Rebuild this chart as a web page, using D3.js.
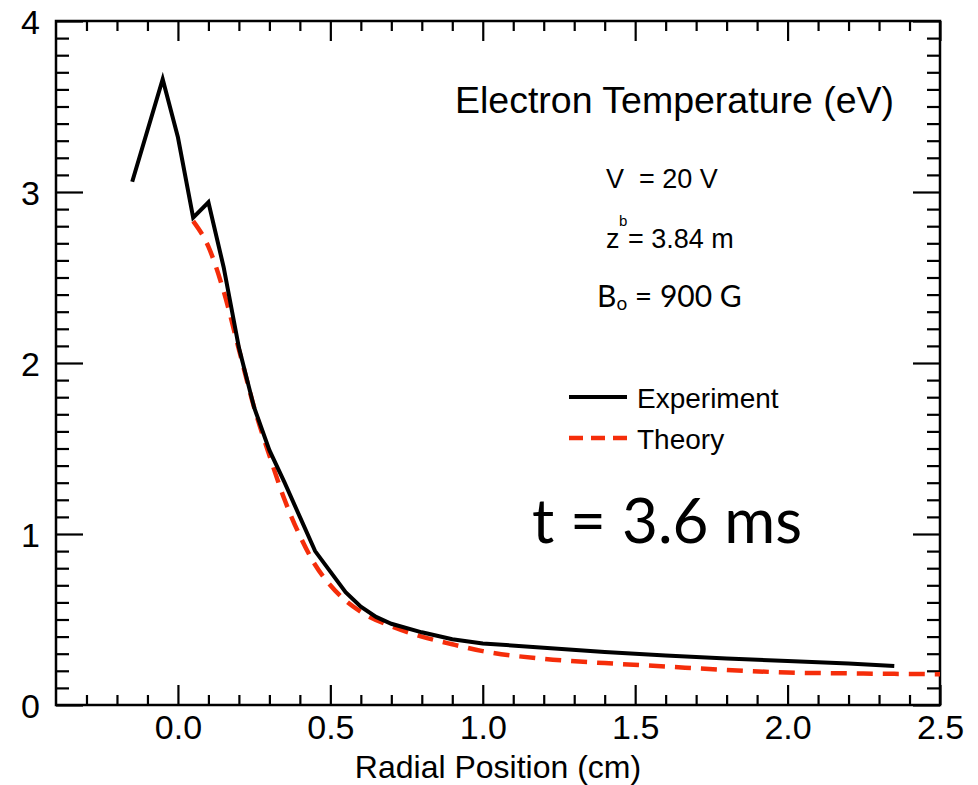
<!DOCTYPE html>
<html>
<head>
<meta charset="utf-8">
<script src="https://cdn.jsdelivr.net/npm/d3@7"></script>
<style>
  body { margin: 0; background: #fff; }
  svg text { font-family: "Liberation Sans", Arial, sans-serif; fill: #000; }
</style>
</head>
<body>
<div id="container"></div>
<script>
/* CONSTANTS AND GLOBALS */
const width = 978,
  height = 785,
  margin = {top: 21, bottom: 80, left: 56, right: 38};

// data
const expX = [-0.15, -0.05, 0.0, 0.05, 0.10, 0.15, 0.20, 0.25, 0.30, 0.35, 0.40, 0.45, 0.50, 0.55, 0.60, 0.65, 0.70, 0.80, 0.90, 1.00, 1.20, 1.40, 1.60, 1.80, 2.00, 2.20, 2.35];
const expT = [3.06, 3.66, 3.32, 2.85, 2.94, 2.56, 2.09, 1.74, 1.49, 1.30, 1.10, 0.90, 0.78, 0.66, 0.575, 0.515, 0.475, 0.425, 0.385, 0.36, 0.335, 0.31, 0.29, 0.272, 0.257, 0.242, 0.228];

const theoX = [0.05, 0.10, 0.15, 0.20, 0.25, 0.30, 0.35, 0.40, 0.45, 0.50, 0.55, 0.60, 0.70, 0.80, 0.90, 1.00, 1.20, 1.40, 1.60, 1.80, 2.00, 2.20, 2.50];
const theoT = [2.83, 2.68, 2.42, 2.08, 1.74, 1.46, 1.20, 0.99, 0.82, 0.70, 0.61, 0.545, 0.46, 0.40, 0.355, 0.315, 0.27, 0.245, 0.225, 0.205, 0.19, 0.185, 0.18];

const xMajor = [0.0, 0.5, 1.0, 1.5, 2.0, 2.5];
const yMajor = [0, 1, 2, 3, 4];
const xMinor = d3.range(-3, 25).map(d => d / 10).filter(d => Math.abs(d * 2 - Math.round(d * 2)) > 1e-6);
const yMinor = d3.range(1, 40).map(d => d / 10).filter(d => d % 1 > 1e-6 && d % 1 < 1 - 1e-6);

const expData = expX.map((x, i) => ({x: x, t: expT[i]}));
const theoData = theoX.map((x, i) => ({x: x, t: theoT[i]}));

// Scales
const xScale = d3.scaleLinear()
  .domain([-0.4, 2.5])
  .range([margin.left, width - margin.right]);

const yScale = d3.scaleLinear()
  .domain([0, 4])
  .range([height - margin.bottom, margin.top]);

// SVG
const svg = d3.select("#container")
  .append("svg")
  .attr("width", width)
  .attr("height", height);

const x0 = margin.left, x1 = width - margin.right,
  y0 = height - margin.bottom, y1 = margin.top;

function styleAxis(g) {
  g.select(".domain").remove();
  g.selectAll(".tick line").attr("stroke", "#000").attr("stroke-width", 2.2);
}

// Axis - bottom (labelled) and top, ticks pointing in
svg.append("g")
  .attr("transform", `translate(0, ${y0})`)
  .call(d3.axisBottom(xScale).tickValues(xMajor).tickSize(-20).tickPadding(34).tickFormat(d3.format(".1f")))
  .call(styleAxis)
  .call(g => g.selectAll("text").style("font-size", "34px").attr("dy", 0));

svg.append("g")
  .attr("transform", `translate(0, ${y0})`)
  .call(d3.axisBottom(xScale).tickValues(xMinor).tickSize(-10).tickFormat(""))
  .call(styleAxis);

svg.append("g")
  .attr("transform", `translate(0, ${y1})`)
  .call(d3.axisTop(xScale).tickValues(xMajor).tickSize(-20).tickFormat(""))
  .call(styleAxis);

svg.append("g")
  .attr("transform", `translate(0, ${y1})`)
  .call(d3.axisTop(xScale).tickValues(xMinor).tickSize(-10).tickFormat(""))
  .call(styleAxis);

// Axis - left (labelled) and right
svg.append("g")
  .attr("transform", `translate(${x0}, 0)`)
  .call(d3.axisLeft(yScale).tickValues(yMajor).tickSize(-27).tickPadding(16).tickFormat(d3.format("d")))
  .call(styleAxis)
  .call(g => g.selectAll("text").style("font-size", "34px").attr("dy", "0.36em"));

svg.append("g")
  .attr("transform", `translate(${x0}, 0)`)
  .call(d3.axisLeft(yScale).tickValues(yMinor).tickSize(-13).tickFormat(""))
  .call(styleAxis);

svg.append("g")
  .attr("transform", `translate(${x1}, 0)`)
  .call(d3.axisRight(yScale).tickValues(yMajor).tickSize(-27).tickFormat(""))
  .call(styleAxis);

svg.append("g")
  .attr("transform", `translate(${x1}, 0)`)
  .call(d3.axisRight(yScale).tickValues(yMinor).tickSize(-13).tickFormat(""))
  .call(styleAxis);

// frame
svg.append("rect")
  .attr("x", x0).attr("y", y1)
  .attr("width", x1 - x0).attr("height", y0 - y1)
  .attr("fill", "none")
  .attr("stroke", "#000")
  .attr("stroke-width", 2.5);

// lines
const lineGen = d3.line()
  .x(d => xScale(d.x))
  .y(d => yScale(d.t));

const curveGen = d3.line()
  .x(d => xScale(d.x))
  .y(d => yScale(d.t))
  .curve(d3.curveMonotoneX);

svg.append("path")
  .datum(theoData)
  .attr("fill", "none")
  .attr("stroke", "#f52d0a")
  .attr("stroke-width", 4.5)
  .attr("stroke-dasharray", "16,10")
  .attr("d", curveGen);

svg.append("path")
  .datum(expData)
  .attr("fill", "none")
  .attr("stroke", "#000")
  .attr("stroke-width", 4)
  .attr("stroke-linejoin", "miter")
  .attr("d", lineGen);

// X label
svg.append("text")
  .attr("x", (x0 + x1) / 2)
  .attr("y", 778)
  .attr("text-anchor", "middle")
  .style("font-size", "32px")
  .text("Radial Position (cm)");

// annotations
svg.append("text")
  .attr("x", 455)
  .attr("y", 113)
  .style("font-size", "37.5px")
  .text("Electron Temperature (eV)");

svg.append("text")
  .attr("x", 606)
  .attr("y", 188)
  .style("font-size", "27px")
  .style("white-space", "pre")
  .text("V  = 20 V");

svg.append("text")
  .attr("x", 606)
  .attr("y", 248)
  .style("font-size", "27px")
  .text("z");
svg.append("text")
  .attr("x", 619)
  .attr("y", 226)
  .style("font-size", "15px")
  .text("b");
svg.append("text")
  .attr("x", 628)
  .attr("y", 248)
  .style("font-size", "27px")
  .text("= 3.84 m");

const bo = svg.append("text")
  .attr("x", 597)
  .attr("y", 307)
  .style("font-family", "Lato, 'Open Sans', sans-serif")
  .style("font-size", "30px");
bo.append("tspan").text("B");
bo.append("tspan").attr("dy", 3).style("font-size", "19px").text("o");
bo.append("tspan").attr("dy", -3).text(" = 900 G");

// legend
svg.append("line")
  .attr("x1", 569).attr("x2", 627)
  .attr("y1", 397).attr("y2", 397)
  .attr("stroke", "#000").attr("stroke-width", 4);
svg.append("text")
  .attr("x", 637).attr("y", 408)
  .style("font-size", "28px")
  .text("Experiment");

svg.append("line")
  .attr("x1", 569).attr("x2", 627)
  .attr("y1", 438).attr("y2", 438)
  .attr("stroke", "#f52d0a").attr("stroke-width", 4.5)
  .attr("stroke-dasharray", "14,8");
svg.append("text")
  .attr("x", 637).attr("y", 449)
  .style("font-size", "28px")
  .text("Theory");

svg.append("text")
  .attr("x", 532).attr("y", 543)
  .style("font-family", "Lato, 'Open Sans', sans-serif")
  .style("font-size", "62px")
  .text("t = 3.6 ms");
</script>
</body>
</html>
